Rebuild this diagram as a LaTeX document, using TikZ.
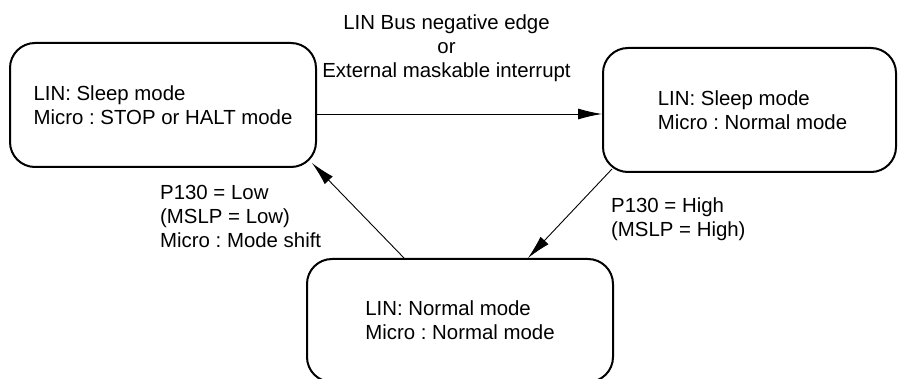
\documentclass[tikz,border=0pt]{standalone}
\usepackage{fontspec}
\setmainfont{Liberation Sans}
\usetikzlibrary{arrows.meta}
\frenchspacing

\begin{document}
\begin{tikzpicture}[x=1pt,y=1pt,
    modebox/.style={draw,line width=2pt,rounded corners=25pt,align=left,
        font=\fontsize{20.4}{24}\selectfont},
    txt/.style={inner sep=0pt,font=\fontsize{20.4}{24}\selectfont},
    arr/.style={line width=0.9pt,-{Latex[length=24pt,width=11pt]}}]
    \useasboundingbox (0,0) rectangle (898,378);
    \node [modebox,minimum width=306pt,minimum height=124pt] (sleepstop) at (163,273)
        {LIN: Sleep mode\\Micro : STOP or HALT mode};
    \node [modebox,minimum width=293pt,minimum height=124pt] (sleepnorm) at (749.5,268)
        {\hspace*{6pt}LIN: Sleep mode\\\hspace*{6pt}Micro : Normal mode};
    \node [modebox,minimum width=306pt,minimum height=123pt] (normal) at (460,57.5)
        {LIN: Normal mode\\Micro : Normal mode};
    \node [txt,align=center,anchor=north] (wake) at (446.5,363)
        {LIN Bus negative edge\\or\\External maskable interrupt};
    \node [txt,align=left,anchor=north west] (low) at (160,193)
        {P130 = Low\\(MSLP = Low)\\Micro : Mode shift};
    \node [txt,align=left,anchor=north west] (high) at (611,180)
        {P130 = High\\(MSLP = High)};
    \coordinate (h) at ([yshift=-9pt]sleepstop.east);
    \draw [arr] (h) -- (h -| sleepnorm.west);
    \draw [arr] ([shift={(10pt,4pt)}]sleepnorm.south west) -- ([xshift=68pt]normal.north);
    \draw [arr] ([xshift=-56pt]normal.north) -- ([shift={(-5pt,5pt)}]sleepstop.south east);
\end{tikzpicture}
\end{document}
